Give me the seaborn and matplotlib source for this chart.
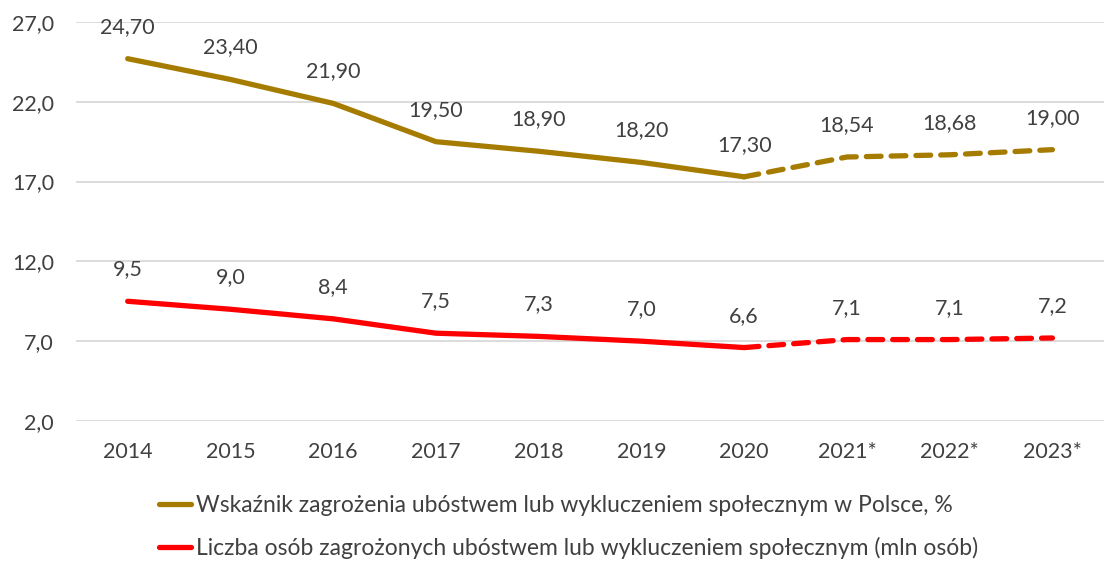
import matplotlib
matplotlib.use("Agg")
import matplotlib.pyplot as plt
import seaborn as sns
import pandas as pd

# Data
years = ["2014", "2015", "2016", "2017", "2018", "2019", "2020", "2021*", "2022*", "2023*"]
rate_values = [24.70, 23.40, 21.90, 19.50, 18.90, 18.20, 17.30, 18.54, 18.68, 19.00]
people_values = [9.5, 9.0, 8.4, 7.5, 7.3, 7.0, 6.6, 7.1, 7.1, 7.2]
rate_name = "Wskaźnik zagrożenia ubóstwem lub wykluczeniem społecznym w Polsce, %"
people_name = "Liczba osób zagrożonych ubóstwem lub wykluczeniem społecznym (mln osób)"
last_actual = "2020"
y_ticks = [2.0, 7.0, 12.0, 17.0, 22.0, 27.0]

GOLD = "#A67C00"
RED = "#FF0000"
TEXT = "#404040"
FS = 15.5
LEGEND_FS = 16.5

sns.set_theme(style="white")
plt.rcParams["font.family"] = ["Lato", "DejaVu Sans"]

fig = plt.figure(figsize=(11.06, 5.61), dpi=100)
ax = fig.add_axes([0.069, 0.2496, 0.929, 0.7112])

pos = {y: i for i, y in enumerate(years)}
split = pos[last_actual]

series = [
    (rate_name, rate_values, GOLD, "{:.2f}"),
    (people_name, people_values, RED, "{:.1f}"),
]

for name, vals, color, fmt in series:
    df = pd.DataFrame({"x": [pos[y] for y in years], "v": vals})
    solid = df[df.x <= split]
    dashed = df[df.x >= split]
    sns.lineplot(data=solid, x="x", y="v", ax=ax, color=color, lw=3.8,
                 solid_capstyle="round", solid_joinstyle="round", label=name)
    sns.lineplot(data=dashed, x="x", y="v", ax=ax, color=color, lw=3.8,
                 dashes=False, linestyle=(0, (2.8, 1.9)),
                 dash_capstyle="round", legend=False)
    for x, v in zip(df.x, df.v):
        ax.annotate(fmt.format(v).replace(".", ","), (x, v),
                    xytext=(0, 23), textcoords="offset points",
                    ha="center", va="center", fontsize=FS, color=TEXT)

ax.set_xlim(-0.5, len(years) - 0.5)
ax.set_ylim(y_ticks[0], y_ticks[-1])
ax.set_yticks(y_ticks)
ax.set_yticklabels([f"{t:.1f}".replace(".", ",") for t in y_ticks])
ax.set_xticks(range(len(years)))
ax.set_xticklabels(years)
ax.tick_params(axis="both", labelsize=FS, labelcolor=TEXT, length=0)
ax.tick_params(axis="x", pad=15)
ax.tick_params(axis="y", pad=16)
ax.yaxis.grid(True, color="#D9D9D9", lw=1.3)
ax.set_axisbelow(True)
for s in ax.spines.values():
    s.set_visible(False)
ax.set_xlabel("")
ax.set_ylabel("")

handles, labels = ax.get_legend_handles_labels()
ax.get_legend().remove()
fig.legend(handles, labels, loc="center left", bbox_to_anchor=(0.144, 0.060),
           frameon=False, fontsize=LEGEND_FS, labelcolor=TEXT, handlelength=1.4,
           handletextpad=0.2, labelspacing=0.9, borderaxespad=0, borderpad=0)

fig.savefig("out.png", dpi=100)
